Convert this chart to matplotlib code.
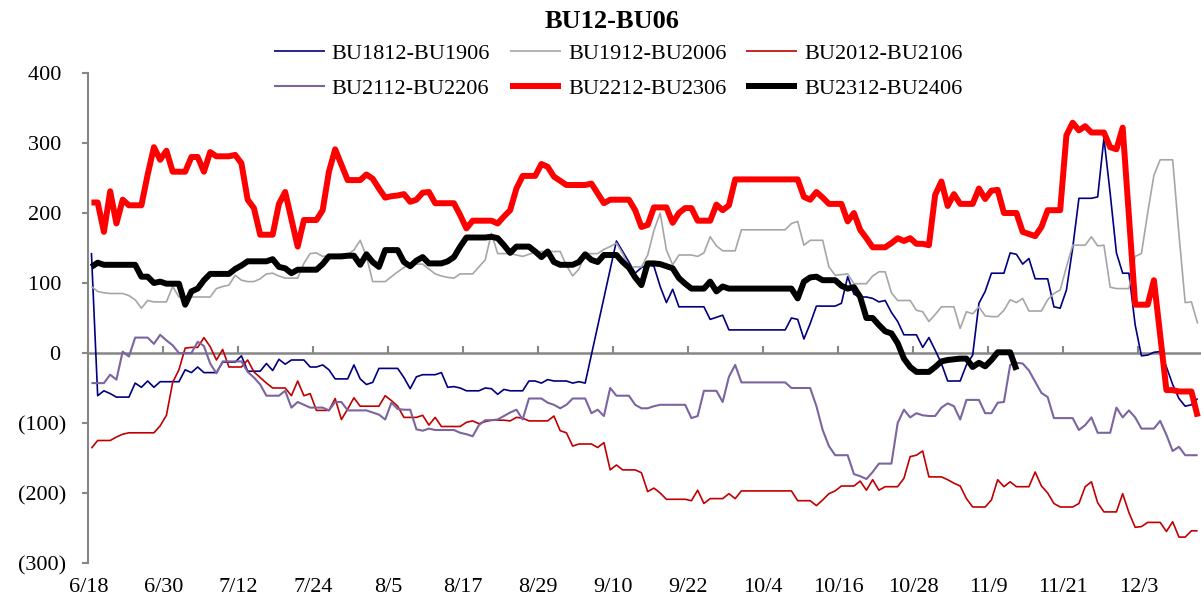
import numpy as np
import matplotlib
matplotlib.use("Agg")
import matplotlib.pyplot as plt

nan = np.nan

# x-axis categories (calendar days from 6/18) and tick labels
tick_days = [0, 12, 24, 36, 48, 60, 72, 84, 96, 108, 120, 132, 144, 156, 168]
tick_labels = ['6/18', '6/30', '7/12', '7/24', '8/5', '8/17', '8/29', '9/10',
               '9/22', '10/4', '10/16', '10/28', '11/9', '11/21', '12/3']

series_names = ['BU1812-BU1906', 'BU1912-BU2006', 'BU2012-BU2106',
                'BU2112-BU2206', 'BU2212-BU2306', 'BU2312-BU2406']

bu1812 = [143, -61, -54, -58, -63, -63, -63, -43, -49, -40,
          -49, -41, -41, -41, -41, -24, -28, -20, -28, -28,
          -28, -13, -13, -13, -4, -26, -26, -26, -15, -25,
          -9, -16, -10, -10, -10, -20, -20, -17, -24, -37,
          -37, -37, -17, -37, -45, -42, -22, -22, -22, -22,
          -35, -51, -34, -31, -31, -31, -28, -49, -48, -50,
          -54, -54, -54, -50, -51, -59, -52, -54, -54, -54,
          -40, -40, -43, -38, -40, -40, -40, -43, -41, -43,
          nan, nan, nan, nan, 160, 145, 130, 114, 122, 126,
          124, 95, 72, 91, 66, 66, 66, 66, 66, 48,
          51, 54, 33, 33, 33, 33, 33, 33, 33, 33,
          33, 33, 50, 48, 20, 42, 67, 67, 67, 67,
          71, 109, 84, 80, 80, 78, 73, 75, 58, 45,
          26, 26, 26, 8, 22, 4, -15, -40, -40, -40,
          -17, -3, 71, 88, 114, 114, 114, 143, 141, 127,
          135, 106, 106, 106, 66, 64, 90, 150, 221, 221,
          221, 223, 307, 228, 143, 114, 114, 40, -4, -3,
          1, 2, -20, -45, -65, -76, -74, -65]

bu1912 = [95, 88, 86, 85, 85, 85, 82, 76, 64, 75,
          73, 73, 73, 95, 80, 80, 80, 80, 80, 80,
          92, 95, 97, 111, 104, 102, 102, 106, 113, 114,
          110, 107, 107, 107, 128, 142, 143, 138, 139, 140,
          141, 141, 147, 161, 138, 102, 102, 102, 109, 116,
          122, 127, 127, 127, 120, 113, 110, 108, 107, 113,
          113, 113, 123, 133, 171, 142, 142, 142, 140, 138,
          141, 144, 145, 145, 145, 145, 125, 110, 120, 142,
          142, 142, 148, 152, 157, 142, 123, 123, 123, 140,
          175, 200, 147, 126, 140, 140, 140, 138, 143, 166,
          153, 146, 146, 146, 176, 176, 176, 176, 176, 176,
          176, 176, 185, 188, 154, 161, 161, 161, 123, 111,
          112, 113, 99, 99, 99, 110, 116, 116, 86, 75,
          75, 75, 61, 59, 45, 55, 66, 66, 66, 35,
          59, 56, 66, 53, 52, 52, 61, 76, 72, 78,
          60, 60, 60, 76, 85, 90, 123, 154, 154, 154,
          166, 153, 154, 94, 92, 92, 92, 138, 142, 200,
          254, 276, 276, 276, 170, 72, 73, 42]

bu2012 = [-136, -125, -125, -125, -120, -116, -114, -114, -114, -114,
          -114, -104, -89, -42, -24, 7, 8, 8, 22, 9,
          -10, 5, -20, -20, -20, -10, -27, -35, -43, -50,
          -50, -50, -61, -40, -61, -58, -82, -82, -82, -65,
          -95, -80, -64, -76, -76, -76, -76, -61, -68, -76,
          -92, -92, -92, -89, -103, -92, -105, -105, -105, -105,
          -99, -97, -101, -98, -96, -96, -96, -97, -92, -93,
          -97, -97, -97, -97, -90, -111, -114, -133, -130, -130,
          -130, -135, -128, -167, -160, -167, -167, -167, -171, -198,
          -193, -200, -209, -209, -209, -209, -211, -196, -215, -208,
          -208, -208, -201, -208, -197, -197, -197, -197, -197, -197,
          -197, -197, -197, -211, -211, -211, -218, -210, -201, -197,
          -190, -190, -190, -183, -196, -181, -196, -191, -191, -191,
          -179, -148, -146, -140, -177, -177, -177, -181, -186, -190,
          -208, -220, -220, -220, -210, -181, -191, -184, -191, -191,
          -191, -170, -190, -200, -215, -220, -220, -220, -215, -191,
          -184, -214, -227, -227, -227, -201, -228, -249, -248, -242,
          -242, -242, -255, -241, -263, -263, -254, -254]

bu2112 = [-43, -43, -43, -31, -38, 2, -5, 22, 22, 22,
          13, 26, 18, 11, 0, 0, 0, 16, 10, -15,
          -29, -12, -12, -12, -12, -27, -35, -45, -61, -61,
          -61, -54, -78, -70, -74, -78, -78, -78, -82, -70,
          -70, -82, -82, -82, -82, -85, -88, -95, -71, -80,
          -81, -81, -109, -111, -108, -110, -110, -110, -110, -114,
          -116, -119, -103, -96, -96, -95, -90, -85, -81, -95,
          -65, -65, -65, -71, -74, -79, -74, -65, -65, -65,
          -86, -81, -90, -50, -61, -61, -61, -74, -79, -79,
          -76, -74, -74, -74, -74, -74, -93, -90, -54, -54,
          -54, -70, -34, -17, -42, -42, -42, -42, -42, -42,
          -42, -42, -50, -50, -50, -50, -76, -110, -133, -146,
          -146, -146, -173, -176, -180, -170, -158, -158, -158, -100,
          -81, -92, -86, -89, -90, -90, -78, -72, -76, -95,
          -67, -67, -67, -86, -86, -71, -70, -17, -14, -15,
          -25, -41, -57, -63, -93, -93, -93, -93, -110, -103,
          -92, -114, -114, -114, -78, -92, -82, -92, -108, -108,
          -108, -97, -117, -140, -134, -146, -146, -146]

bu2212 = [215, 215, 173, 231, 185, 219, 211, 211, 211, 255,
          294, 276, 289, 259, 259, 259, 280, 280, 259, 287,
          281, 281, 281, 283, 271, 219, 207, 169, 169, 169,
          213, 230, 191, 152, 190, 190, 190, 204, 259, 291,
          269, 247, 247, 247, 255, 249, 235, 222, 224, 225,
          227, 216, 219, 229, 230, 214, 214, 214, 214, 197,
          178, 189, 189, 189, 189, 185, 195, 204, 235, 253,
          253, 253, 270, 266, 252, 246, 240, 240, 240, 240,
          242, 228, 214, 219, 219, 219, 219, 204, 180, 183,
          208, 208, 208, 186, 200, 207, 207, 189, 189, 189,
          212, 204, 211, 248, 248, 248, 248, 248, 248, 248,
          248, 248, 248, 248, 223, 219, 230, 222, 213, 213,
          213, 188, 200, 176, 164, 151, 151, 151, 157, 164,
          160, 164, 156, 156, 154, 226, 245, 210, 227, 213,
          213, 213, 235, 220, 232, 233, 200, 200, 200, 173,
          170, 167, 180, 204, 204, 204, 311, 329, 318, 324,
          315, 315, 315, 294, 291, 322, 195, 69, 69, 69,
          104, 25, -53, -53, -55, -55, -55, -91]

bu2312 = [123, 129, 126, 126, 126, 126, 126, 126, 109, 109,
          100, 102, 99, 99, 99, 69, 88, 92, 104, 113,
          113, 113, 113, 120, 125, 131, 131, 131, 131, 134,
          123, 121, 114, 119, 119, 119, 119, 127, 138, 138,
          138, 139, 139, 126, 141, 130, 123, 147, 147, 147,
          130, 124, 132, 137, 128, 128, 128, 131, 137, 152,
          165, 165, 165, 165, 166, 164, 154, 143, 152, 152,
          152, 145, 137, 145, 130, 126, 126, 126, 130, 141,
          133, 130, 140, 140, 140, 130, 122, 108, 97, 128,
          128, 127, 124, 121, 107, 99, 92, 92, 92, 102,
          88, 95, 92, 92, 92, 92, 92, 92, 92, 92,
          92, 92, 92, 78, 102, 108, 109, 104, 104, 104,
          96, 92, 94, 80, 50, 50, 40, 31, 28, 14,
          -8, -20, -27, -27, -27, -20, -12, -10, -9, -8,
          -8, -20, -14, -19, -10, 1, 1, 1, -24]

series_values = [bu1812, bu1912, bu2012, bu2112, bu2212, bu2312]
colors = ['#000080', '#A6A6A6', '#C00000', '#7B64A0', '#FF0000', '#000000']
widths = [1.2, 1.2, 1.2, 1.5, 4.3, 4.3]

W, H = 1201, 599
fig = plt.figure(figsize=(W / 100, H / 100), dpi=100)
ax = fig.add_axes([88.3 / W, 36 / H, 1112.5 / W, 490 / H])

serif = ['Liberation Serif', 'DejaVu Serif']
grey = '#868686'

handles = []
for name, vals, c, lw in zip(series_names, series_values, colors, widths):
    y = np.array(vals, dtype=float)
    x = np.arange(len(y)) + 0.5
    m = ~np.isnan(y)
    ln, = ax.plot(x[m], y[m], color=c, lw=lw, label=name, zorder=3,
                  solid_joinstyle='round', solid_capstyle='butt')
    handles.append(ln)

ax.set_xlim(0, 178)
ax.set_ylim(-300, 400)

for s in ['top', 'right']:
    ax.spines[s].set_visible(False)
ax.spines['left'].set_color(grey)
ax.spines['left'].set_linewidth(1.5)
ax.spines['bottom'].set_position(('data', 0))
ax.spines['bottom'].set_color(grey)
ax.spines['bottom'].set_linewidth(1.8)
ax.spines['bottom'].set_zorder(2)
ax.spines['left'].set_zorder(2)

ax.set_xticks(tick_days)
ax.tick_params(axis='x', direction='in', length=5, width=1.5, color=grey,
               labelbottom=False)

yt = list(range(-300, 401, 100))
ylabels = [f"({abs(v)})" if v < 0 else f"{v}\u2009" for v in yt]
ax.set_yticks(yt)
ax.set_yticklabels(ylabels, fontfamily=serif, fontsize=16)
ax.tick_params(axis='y', direction='out', length=4, width=1.5, color=grey,
               pad=12)

sec = ax.secondary_xaxis('bottom')
sec.spines['bottom'].set_visible(False)
sec.set_xticks(tick_days)
sec.set_xticklabels(tick_labels, fontfamily=serif, fontsize=16)
sec.tick_params(axis='x', length=0, pad=11)

fig.text(612 / W, 1 - 21 / H, 'BU12-BU06', ha='center', va='center',
         fontsize=19, fontweight='bold', fontfamily=serif)

order = [0, 3, 1, 4, 2, 5]
leg = fig.legend([handles[i] for i in order], [series_names[i] for i in order],
                 ncol=3, loc='upper left',
                 bbox_to_anchor=(274 / W, 1 - 43 / H),
                 bbox_transform=fig.transFigure, frameon=False,
                 prop={'family': serif, 'size': 16},
                 handlelength=2.3, handletextpad=0.3, columnspacing=0.9,
                 labelspacing=0.65, borderpad=0, borderaxespad=0)

fig.savefig('out.png', dpi=100)
